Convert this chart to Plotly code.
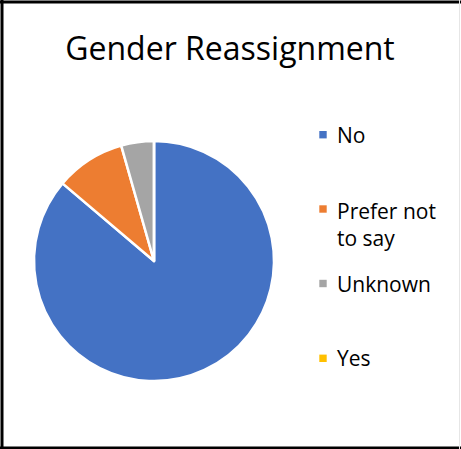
import plotly.graph_objects as go

categories = ["No", "Prefer not to say", "Unknown", "Yes"]
legend_labels = ["No", "Prefer not<br>to say", "Unknown", "Yes"]
values = [86.2, 9.4, 4.4, 0.0]
colors = ["#4472C4", "#ED7D31", "#A5A5A5", "#FFC000"]

W, H = 461, 449
def px(x):
    return x / W
def py(y):
    return 1 - y / H

fig = go.Figure(go.Pie(
    labels=categories,
    values=values,
    sort=False,
    direction="clockwise",
    rotation=0,
    marker=dict(colors=colors, line=dict(color="white", width=2.5)),
    textinfo="none",
    hoverinfo="label+percent",
    showlegend=False,
    domain=dict(x=[px(34), px(274)], y=[py(381), py(141)]),
))

font_family = "Open Sans, Liberation Sans, sans-serif"

# legend drawn as markers + text
marker_y = [134.7, 209, 283.5, 358.3]
text_y = [135.3, 224, 284, 358]
shapes = []
annotations = []
for lab, col, my, ty in zip(legend_labels, colors, marker_y, text_y):
    shapes.append(dict(type="rect", xref="paper", yref="paper",
                       x0=px(319.3), x1=px(326.7), y0=py(my + 3.7), y1=py(my - 3.7),
                       fillcolor=col, line=dict(width=0)))
    annotations.append(dict(text=lab, xref="paper", yref="paper", x=px(335), y=py(ty),
                            xanchor="left", yanchor="middle", showarrow=False, align="left",
                            font=dict(family=font_family, size=21, color="#000000")))

# chart frame
shapes += [
    dict(type="line", xref="paper", yref="paper", x0=px(2), x1=px(2), y0=py(0), y1=py(449),
         line=dict(color="black", width=3)),
    dict(type="line", xref="paper", yref="paper", x0=px(0), x1=px(461), y0=py(2), y1=py(2),
         line=dict(color="black", width=3)),
    dict(type="line", xref="paper", yref="paper", x0=px(0), x1=px(461), y0=py(448), y1=py(448),
         line=dict(color="black", width=3)),
    dict(type="line", xref="paper", yref="paper", x0=px(459.5), x1=px(459.5), y0=py(0), y1=py(449),
         line=dict(color="#E6E6E6", width=1)),
]

fig.update_layout(
    width=W, height=H,
    margin=dict(l=0, r=0, t=0, b=0),
    paper_bgcolor="white", plot_bgcolor="white",
    title=dict(text="Gender Reassignment", x=px(230), xanchor="center",
               y=py(49), yanchor="middle", yref="container",
               font=dict(family=font_family, size=32, color="#000000")),
    shapes=shapes,
    annotations=annotations,
)

fig.write_html("out.html",
               config={"displayModeBar": False},
               post_script="document.documentElement.style.overflow='hidden';document.body.style.margin='0';document.body.style.padding='0';document.body.style.overflow='hidden';document.body.style.background='white';")
